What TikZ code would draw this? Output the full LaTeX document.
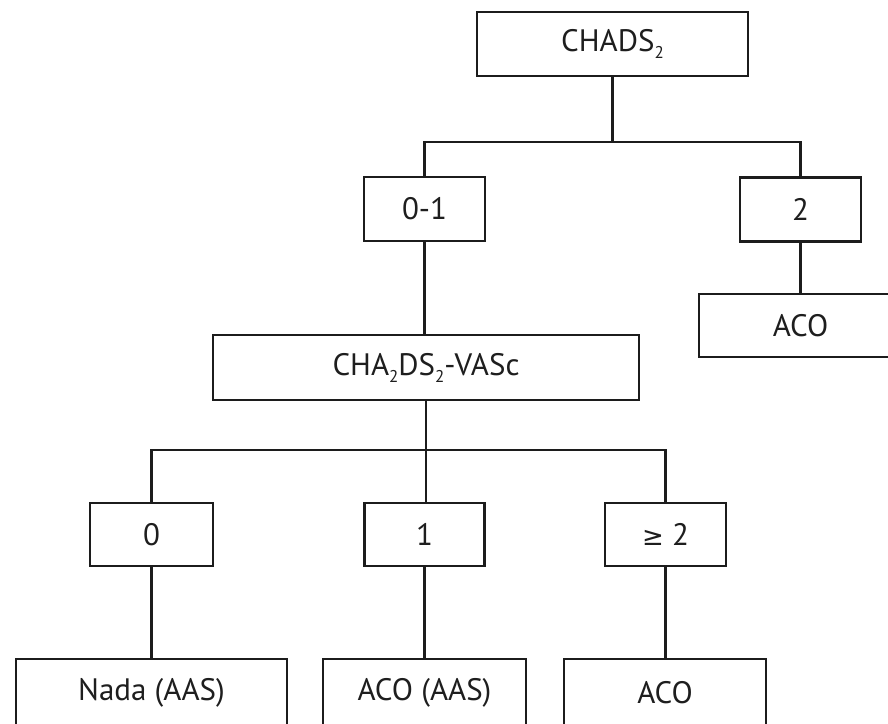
\documentclass[tikz,border=0pt]{standalone}
\usepackage{fontspec}
\setmainfont{PT Sans}
\newfontfamily\symf{DejaVu Sans}
\definecolor{lc}{HTML}{1C1C1C}
\definecolor{tc}{HTML}{1E1E1E}
\newcommand{\lowsub}[1]{\raisebox{-0.45ex}{\fontsize{17}{20}\selectfont #1}}
\begin{document}
\begin{tikzpicture}[x=1pt,y=-1pt,
  box/.style={draw=lc, line width=2.8pt, inner sep=0pt, text=tc,
    font=\fontsize{31}{36}\selectfont, minimum height=64pt},
  conn/.style={draw=lc, line width=2.8pt}]
\useasboundingbox (0,0) rectangle (888,723);
\clip (0,0) rectangle (888,723);
\fill[white] (0,0) rectangle (888,723);
% level 0
\node[box, minimum width=271pt] (chads) at (612.5,44) {CHADS\lowsub{2}};
% level 1
\node[box, minimum width=121pt] (n01) at (424.5,209) {0-1};
\node[box, minimum width=121pt] (two) at (800.5,209.5) {2};
\node[box, minimum width=203pt, minimum height=63pt] (acoR) at (800.5,325.5) {ACO};
% level 2
\node[box, minimum width=426pt, minimum height=65pt] (cha) at (426,367.5) {CHA\lowsub{2}DS\lowsub{2}-VASc};
% level 3
\node[box, minimum width=123pt, minimum height=63pt] (s0) at (151.5,534.5) {0};
\node[box, minimum width=120pt, minimum height=63pt] (s1) at (424.5,534.5) {1};
\node[box, minimum width=121pt, minimum height=63pt] (s2) at (665.5,534.5) {{\symf\fontsize{26}{30}\selectfont ≥} 2};
% level 4
\node[box, minimum width=271pt, minimum height=68pt] (nada) at (151.5,693) {Nada (AAS)};
\node[box, minimum width=203pt, minimum height=68pt] (acoaas) at (424.5,693) {ACO (AAS)};
\node[box, minimum width=202pt, minimum height=68pt] (aco) at (665,693) {ACO};
% junctions
\coordinate (j1) at (612.5,142);
\coordinate (j2) at (426,450);
% connectors
\draw[conn] (chads.south) -- (j1);
\draw[conn] (n01.north) |- (j1) -| (two.north);
\draw[conn] (two.south) -- (two.south |- acoR.north);
\draw[conn] (n01.south) -- (n01.south |- cha.north);
\draw[conn] (cha.south) -- (j2);
\draw[conn] (s0.north) |- (j2) -| (s2.north);
\draw[conn] (j2) -- (j2 |- s1.north);
\draw[conn] (s0.south) -- (s0.south |- nada.north);
\draw[conn] (s1.south) -- (s1.south |- acoaas.north);
\draw[conn] (s2.south) -- (s2.south |- aco.north);
\end{tikzpicture}
\end{document}
